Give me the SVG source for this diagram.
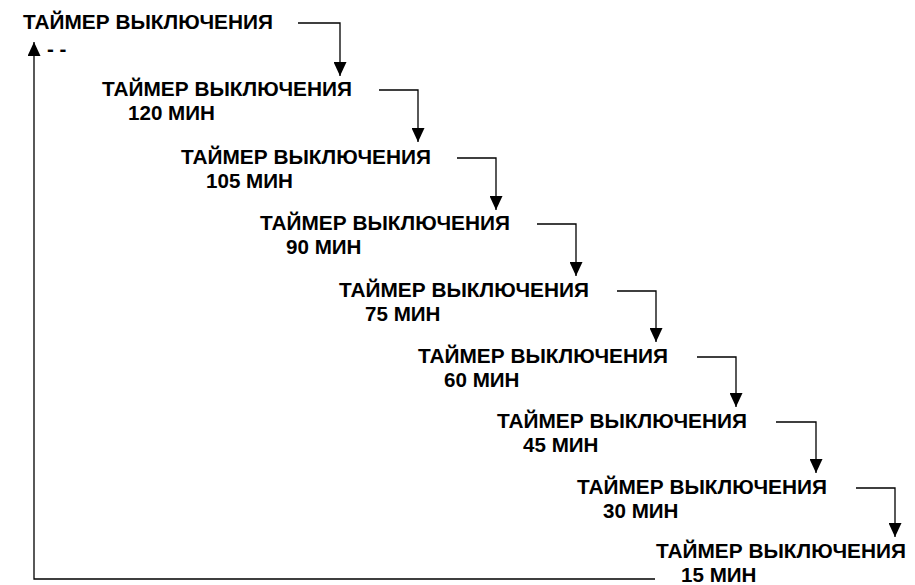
<svg xmlns="http://www.w3.org/2000/svg" width="915" height="585" viewBox="0 0 915 585">
<style>
text{font-family:"Liberation Sans",Arial,sans-serif;font-weight:bold;font-size:20.6px;fill:#000}
.c{fill:none;stroke:#000;stroke-width:1.3}
</style>
<defs>
<marker id="ah" viewBox="0 0 14 13" markerUnits="userSpaceOnUse" markerWidth="14" markerHeight="13" refX="14" refY="6.5" orient="auto"><path d="M0,0L14,6.5L0,13z" fill="#000"/></marker>
</defs>
<rect width="915" height="585" fill="#fff"/>
<g id="n1"><text x="23" y="29" textLength="250" lengthAdjust="spacingAndGlyphs">ТАЙМЕР ВЫКЛЮЧЕНИЯ</text><text x="47" y="56">- -</text></g>
<g id="n2"><text x="102" y="96" textLength="250" lengthAdjust="spacingAndGlyphs">ТАЙМЕР ВЫКЛЮЧЕНИЯ</text><text x="128" y="120">120 МИН</text></g>
<g id="n3"><text x="181" y="164" textLength="250" lengthAdjust="spacingAndGlyphs">ТАЙМЕР ВЫКЛЮЧЕНИЯ</text><text x="206" y="188">105 МИН</text></g>
<g id="n4"><text x="260" y="230" textLength="250" lengthAdjust="spacingAndGlyphs">ТАЙМЕР ВЫКЛЮЧЕНИЯ</text><text x="286" y="254">90 МИН</text></g>
<g id="n5"><text x="339" y="297" textLength="250" lengthAdjust="spacingAndGlyphs">ТАЙМЕР ВЫКЛЮЧЕНИЯ</text><text x="365" y="321">75 МИН</text></g>
<g id="n6"><text x="418" y="363" textLength="250" lengthAdjust="spacingAndGlyphs">ТАЙМЕР ВЫКЛЮЧЕНИЯ</text><text x="444" y="387">60 МИН</text></g>
<g id="n7"><text x="497" y="428" textLength="250" lengthAdjust="spacingAndGlyphs">ТАЙМЕР ВЫКЛЮЧЕНИЯ</text><text x="523" y="452">45 МИН</text></g>
<g id="n8"><text x="577" y="494" textLength="250" lengthAdjust="spacingAndGlyphs">ТАЙМЕР ВЫКЛЮЧЕНИЯ</text><text x="603" y="518">30 МИН</text></g>
<g id="n9"><text x="656" y="558" textLength="250" lengthAdjust="spacingAndGlyphs">ТАЙМЕР ВЫКЛЮЧЕНИЯ</text><text x="681" y="582">15 МИН</text></g>
<g id="connectors">
<path class="c" d="M298,23H340V76" marker-end="url(#ah)"/>
<path class="c" d="M379,90H418V142" marker-end="url(#ah)"/>
<path class="c" d="M457,158H496V210" marker-end="url(#ah)"/>
<path class="c" d="M537,224H576V276" marker-end="url(#ah)"/>
<path class="c" d="M617,291H656V342" marker-end="url(#ah)"/>
<path class="c" d="M697,357H736V407" marker-end="url(#ah)"/>
<path class="c" d="M776,422H816V473" marker-end="url(#ah)"/>
<path class="c" d="M856,488H895V537" marker-end="url(#ah)"/>
<path class="c" d="M655,579H34V42" marker-end="url(#ah)"/>
</g>
</svg>
